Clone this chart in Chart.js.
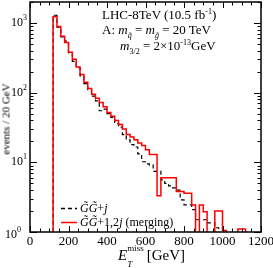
<!DOCTYPE html>
<html>
<head>
<meta charset="utf-8">
<script src="https://cdn.jsdelivr.net/npm/chart.js@4.4.1/dist/chart.umd.min.js"></script>
<style>
html, body { margin: 0; padding: 0; background: #fff; }
#wrap { position: relative; width: 273px; height: 268px; overflow: hidden;
        font-family: "Liberation Serif", "Times New Roman", serif; color: #000; }
#wrap canvas { position: absolute; left: 0; top: 0; }
.t { position: absolute; white-space: nowrap; line-height: 1; font-weight: normal; }
.t sub, .t sup { font-size: 0.62em; line-height: 0; }
#ytitle { left: 6px; top: 119px; font-size: 11px; transform: translate(-50%, -50%) rotate(-90deg); }
</style>
</head>
<body>
<div id="wrap">
  <canvas id="chart" width="273" height="268"></canvas>
  <div class="t" style="left:102px; top:8px; font-size:13px;">LHC-8TeV (10.5 fb<sup>-1</sup>)</div>
  <div class="t" style="left:102px; top:23px; font-size:13px;">A: <i>m</i><sub><i>q̃</i></sub> = <i>m</i><sub><i>g̃</i></sub> = 20 TeV</div>
  <div class="t" style="left:120px; top:39px; font-size:13px;"><i>m</i><sub>3/2</sub> = 2×10<sup>-13</sup>GeV</div>
  <div class="t" style="left:80px; top:202px; font-size:12px;"><i>G̃G̃</i>+<i>j</i></div>
  <div class="t" style="left:80px; top:216px; font-size:12px;"><i>G̃G̃</i>+1,2<i>j</i> (merging)</div>
  <div class="t" id="ytitle">events / 20 GeV</div>
  <div class="t" style="left:118px; top:248px; font-size:15px;"><i>E</i><sub style="font-size:9px; position:relative; top:3px;"><i>T</i></sub><sup style="font-size:9px; position:relative; top:-3px; margin-left:-5px;">miss</sup><span style="margin-left:3px;">[GeV]</span></div>
</div>
<script>
// histogram: 20 GeV bins starting at 120 GeV
var binStart = 120;
var binWidth = 20;
var xTicks = [0, 200, 400, 600, 800, 1000, 1200];
var yTicks = [1, 10, 100, 1000];

// GG+1,2j (merging), red
var mergedCounts = [1230, 891, 646, 525, 380, 302, 234, 182, 141, 115,
    95, 83, 72, 63, 52, 46, 40, 35, 30, 25,
    23, 21, 19, 17.4, 15.1, 12.9, 12.9, 3.3, 6.0, 6.0,
    6.0, 6.0, 3.8, 3.8, 3.6, 3.6, 2.45, 0, 2.45, 1.95,
    0, 0, 2.0, 2.0, 1.05, 0, 0, 0, 1.1, 1.1];

// GG+j, black dashed
var oneJetCounts = [1290, 871, 631, 550, 372, 282, 229, 174, 135, 110,
    89, 76, 55, 58, 50, 44, 36, 32, 25, 21,
    18, 16.6, 13.2, 10.2, 9.5, 9.1, 7.4, 7.4, 5.6, 5.0,
    4.6, 4.3, 4.0, 2.9, 2.45, 2.45, 2.1, 1.5, 1.5, 1.5,
    1.35, 1.35, 1.15, 0, 0, 0, 0, 0, 0, 0];

var FLOOR = 0.1; // empty bins fall below the axis and get clipped

var stepPoints = function (counts) {
    var pts = [{x: binStart, y: FLOOR}];
    counts.forEach(function (c, i) {
        pts.push({x: binStart + i * binWidth, y: c > 0 ? c : FLOOR});
    });
    pts.push({x: binStart + counts.length * binWidth, y: FLOOR});
    return pts;
};

var frame = {
    id: 'frame',
    afterDatasetsDraw: function (chart) {
        var ctx = chart.ctx;
        var a = chart.chartArea;
        var xs = chart.scales.x;
        var ys = chart.scales.y;
        ctx.save();
        ctx.strokeStyle = '#000';
        ctx.lineWidth = 1;
        ctx.beginPath();
        for (var v = xs.min; v <= xs.max; v += 50) {
            var px = Math.round(xs.getPixelForValue(v)) + 0.5;
            var len = v % 200 === 0 ? 6 : 3.5;
            ctx.moveTo(px, a.bottom); ctx.lineTo(px, a.bottom - len);
            ctx.moveTo(px, a.top); ctx.lineTo(px, a.top + len);
        }
        yTicks.forEach(function (d) {
            for (var m = 1; m <= 9; m++) {
                if (d * m > ys.max) break;
                var py = Math.round(ys.getPixelForValue(d * m)) + 0.5;
                var len = m === 1 ? 7 : 3.5;
                ctx.moveTo(a.left, py); ctx.lineTo(a.left + len, py);
                ctx.moveTo(a.right, py); ctx.lineTo(a.right - len, py);
            }
        });
        ctx.stroke();
        ctx.lineWidth = 1.5;
        ctx.strokeRect(a.left, a.top, a.right - a.left, a.bottom - a.top);

        // y labels 10^n
        ctx.fillStyle = '#000';
        ctx.textBaseline = 'middle';
        yTicks.forEach(function (d, i) {
            var py = ys.getPixelForValue(d);
            var exp = String(Math.round(Math.log10(d)));
            var right = a.left - 3;
            if (i === 0) { right -= 6; py += 3; }
            ctx.font = '8px "Liberation Serif"';
            var ew = ctx.measureText(exp).width;
            ctx.textAlign = 'left';
            ctx.fillText(exp, right - ew, py - 5);
            ctx.font = '12px "Liberation Serif"';
            ctx.textAlign = 'right';
            ctx.fillText('10', right - ew, py);
        });

        // legend samples
        ctx.lineWidth = 1.3;
        ctx.strokeStyle = '#000';
        ctx.setLineDash([4, 3]);
        ctx.beginPath(); ctx.moveTo(61, 208.5); ctx.lineTo(77, 208.5); ctx.stroke();
        ctx.setLineDash([]);
        ctx.strokeStyle = '#ff0000';
        ctx.lineWidth = 1.5;
        ctx.beginPath(); ctx.moveTo(61, 222.5); ctx.lineTo(77, 222.5); ctx.stroke();
        ctx.restore();
    }
};

var ctx = document.getElementById('chart').getContext('2d');
var chart = new Chart(ctx, {
    type: 'line',
    data: {
        datasets: [{
            label: 'GG+1,2j (merging)',
            data: stepPoints(mergedCounts),
            borderColor: '#ff0000',
            borderWidth: 1.5,
            stepped: 'before',
            pointRadius: 0,
            fill: false
        }, {
            label: 'GG+j',
            data: stepPoints(oneJetCounts),
            borderColor: '#000000',
            borderWidth: 1.2,
            borderDash: [4, 3],
            stepped: 'before',
            pointRadius: 0,
            fill: false
        }]
    },
    options: {
        responsive: false,
        animation: false,
        layout: {padding: {top: 2, right: 12, left: 0, bottom: 0}},
        plugins: {legend: {display: false}, tooltip: {enabled: false}},
        scales: {
            x: {
                type: 'linear',
                min: 0,
                max: 1200,
                grid: {display: false, drawTicks: false},
                border: {display: false},
                ticks: {
                    color: '#000',
                    padding: 2,
                    maxRotation: 0,
                    font: {family: 'Liberation Serif', size: 13},
                    callback: function (v) { return String(v); }
                },
                afterBuildTicks: function (scale) {
                    scale.ticks = xTicks.map(function (v) { return {value: v}; });
                },
                afterFit: function (scale) {
                    scale.height = 36;
                    scale.paddingLeft = 0;
                    scale.paddingRight = 0;
                }
            },
            y: {
                type: 'logarithmic',
                min: 1,
                max: 2000,
                grid: {display: false, drawTicks: false},
                border: {display: false},
                ticks: {display: false},
                afterBuildTicks: function (scale) {
                    scale.ticks = yTicks.map(function (v) { return {value: v}; });
                },
                afterFit: function (scale) {
                    scale.width = 30;
                }
            }
        }
    },
    plugins: [frame]
});
</script>
</body>
</html>
